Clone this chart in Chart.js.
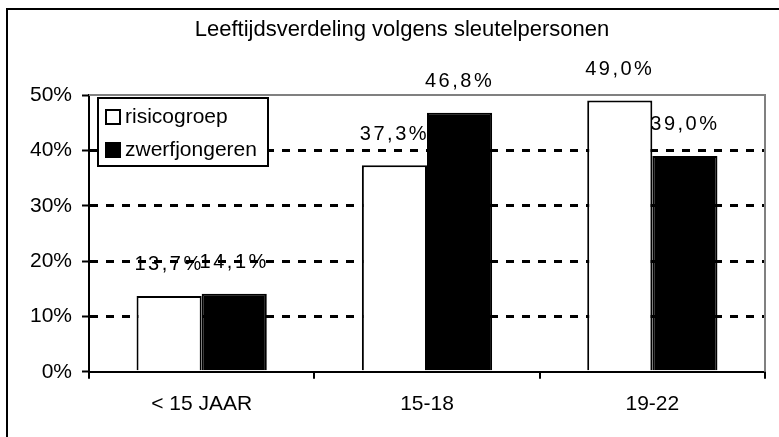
<!DOCTYPE html>
<html>
<head>
<meta charset="utf-8">
<script src="https://cdn.jsdelivr.net/npm/chart.js@4/dist/chart.umd.min.js"></script>
<style>
  body { margin: 0; background: #fff; }
  #wrap { width: 779px; height: 437px; position: relative; }
</style>
</head>
<body>
<div id="wrap"><canvas id="grafiek"></canvas></div>
<script>
// gegevens
const categorieen = ['< 15 JAAR', '15-18', '19-22'];
const risicogroep = [13.7, 37.3, 49.0];
const zwerfjongeren = [14.1, 46.8, 39.0];
const yTicks = [0, 10, 20, 30, 40, 50];
const titel = 'Leeftijdsverdeling volgens sleutelpersonen';

const FONT = "'Liberation Sans', Arial, sans-serif";

// buitenkader, titel en grijze rand van plotgebied
const kaderPlugin = {
    id: 'kader',
    beforeDraw(chart) {
        const c = chart.ctx;
        c.save();
        c.fillStyle = '#fff';
        c.fillRect(0, 0, chart.width, chart.height);
        c.strokeStyle = '#000';
        c.lineWidth = 2;
        c.strokeRect(7, 9, chart.width + 20, chart.height + 20);
        c.font = '22px ' + FONT;
        c.fillStyle = '#000';
        c.textAlign = 'center';
        c.textBaseline = 'middle';
        c.fillText(titel, 402, 30);
        c.restore();
    },
    beforeDatasetsDraw(chart) {
        const a = chart.chartArea, c = chart.ctx;
        c.save();
        c.strokeStyle = '#808080';
        c.lineWidth = 2;
        c.beginPath();
        c.moveTo(a.left, a.top);
        c.lineTo(a.right, a.top);
        c.lineTo(a.right, a.bottom);
        c.stroke();
        c.restore();
    }
};

// waardelabels boven de staven
const labelPlugin = {
    id: 'labels',
    afterDatasetsDraw(chart) {
        const c = chart.ctx;
        c.save();
        c.font = '20px ' + FONT;
        c.letterSpacing = '2.5px';
        c.fillStyle = '#000';
        c.textAlign = 'center';
        c.textBaseline = 'middle';
        chart.data.datasets.forEach((ds, i) => {
            chart.getDatasetMeta(i).data.forEach((el, j) => {
                const txt = ds.data[j].toFixed(1).replace('.', ',') + '%';
                c.fillText(txt, el.x, el.y - 31);
            });
        });
        c.restore();
    }
};

// legenda in een kader linksboven in het plotgebied
const legendaPlugin = {
    id: 'legenda',
    afterDraw(chart) {
        const a = chart.chartArea, c = chart.ctx;
        const x = a.left + 9, y = a.top + 3, w = 170, h = 68;
        c.save();
        c.fillStyle = '#fff';
        c.fillRect(x, y, w, h);
        c.strokeStyle = '#000';
        c.lineWidth = 2;
        c.strokeRect(x, y, w, h);
        c.font = '21px ' + FONT;
        c.textBaseline = 'middle';
        chart.data.datasets.forEach((ds, i) => {
            const cy = y + 19 + i * 33;
            c.fillStyle = ds.backgroundColor;
            c.fillRect(x + 8, cy - 7, 14, 14);
            c.lineWidth = 2;
            c.strokeRect(x + 8, cy - 7, 14, 14);
            c.fillStyle = '#000';
            c.fillText(ds.label, x + 27, cy);
        });
        c.restore();
    }
};

new Chart(document.getElementById('grafiek'), {
    type: 'bar',
    data: {
        labels: categorieen,
        datasets: [
            { label: 'risicogroep', data: risicogroep, backgroundColor: '#ffffff', borderColor: '#000', borderWidth: 2 },
            { label: 'zwerfjongeren', data: zwerfjongeren, backgroundColor: '#000000', borderColor: '#000', borderWidth: 2 }
        ]
    },
    options: {
        responsive: true,
        maintainAspectRatio: false,
        animation: false,
        layout: { padding: { top: 95, left: 0, right: 14, bottom: 7 } },
        datasets: { bar: { categoryPercentage: 0.578, barPercentage: 1.0 } },
        plugins: {
            legend: { display: false },
            tooltip: { enabled: false },
            title: { display: false }
        },
        scales: {
            x: {
                grid: { drawOnChartArea: false, color: '#000', lineWidth: 2, tickLength: 7 },
                border: { display: true, color: '#000', width: 2 },
                ticks: { color: '#000', padding: 13, font: { family: FONT, size: 21 } }
            },
            y: {
                min: 0,
                max: 50,
                afterFit(scale) { scale.width = 89; },
                afterBuildTicks(scale) { scale.ticks = yTicks.map(v => ({ value: v })); },
                grid: {
                    color: ctx => (ctx.tick && (ctx.tick.value === 50 || ctx.tick.value === 0)) ? 'rgba(0,0,0,0)' : '#000',
                    tickColor: '#000',
                    lineWidth: 3,
                    tickWidth: 2,
                    tickLength: 7,
                    tickBorderDash: []
                },
                border: { display: true, color: '#000', width: 2, dash: [8, 8] },
                ticks: {
                    color: '#000',
                    padding: 10,
                    font: { family: FONT, size: 21 },
                    callback: v => v + '%'
                }
            }
        }
    },
    plugins: [kaderPlugin, labelPlugin, legendaPlugin]
});
</script>
</body>
</html>
